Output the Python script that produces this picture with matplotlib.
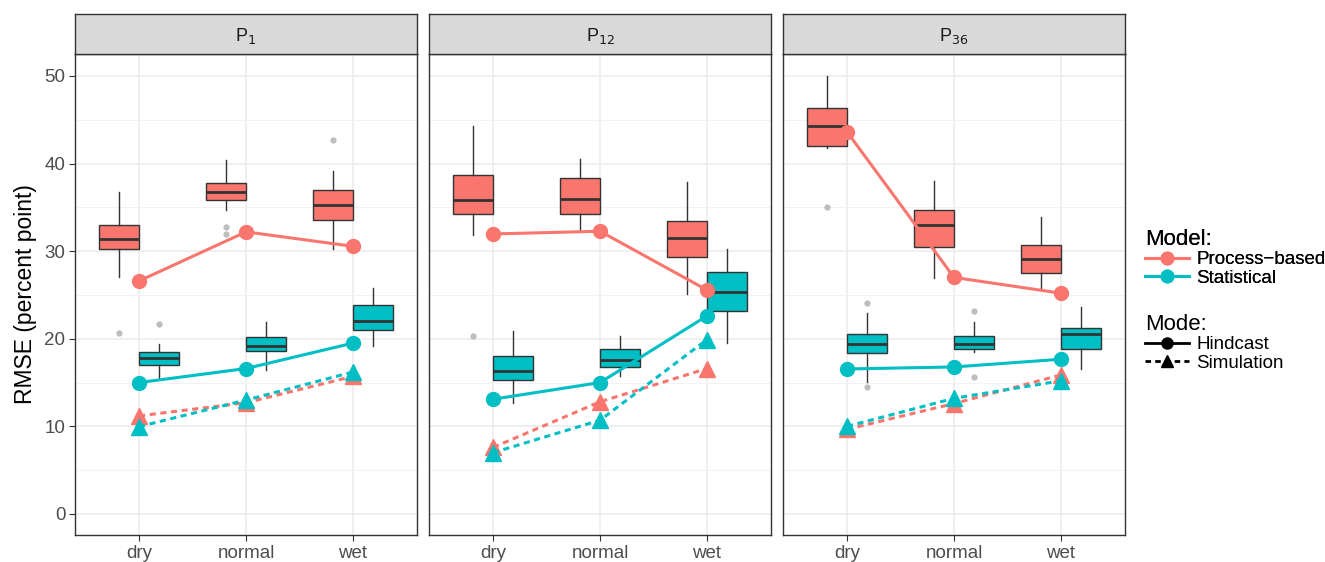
import matplotlib
matplotlib.use("Agg")
import matplotlib.pyplot as plt
from matplotlib.lines import Line2D

plt.rcParams['font.family'] = ['Liberation Sans', 'DejaVu Sans']

panels = ['P$_{1}$', 'P$_{12}$', 'P$_{36}$']
cats = ['dry', 'normal', 'wet']
red = '#F8766D'
teal = '#00BFC4'

# box stats per panel: [whislo, q1, med, q3, whishi] for dry, normal, wet
proc_box = [
    [[27.1, 30.2, 31.35, 32.95, 36.8], [34.7, 35.8, 36.8, 37.75, 40.4], [30.2, 33.6, 35.3, 36.95, 39.1]],
    [[31.85, 34.2, 35.85, 38.7, 44.3], [32.3, 34.2, 35.95, 38.4, 40.5], [25.15, 29.3, 31.45, 33.4, 37.9]],
    [[41.75, 42.05, 44.3, 46.3, 50.0], [26.9, 30.5, 33.0, 34.75, 38.0], [25.65, 27.55, 29.15, 30.67, 33.87]],
]
proc_out = [
    [[20.7], [32.7, 31.9], [42.65]],
    [[20.3], [], []],
    [[35.0], [], []],
]
stat_box = [
    [[15.5, 16.97, 17.85, 18.53, 19.37], [16.4, 18.6, 19.2, 20.24, 21.96], [19.14, 20.97, 22.07, 23.9, 25.8]],
    [[12.67, 15.26, 16.3, 18.07, 20.9], [15.7, 16.78, 17.58, 18.84, 20.36], [19.5, 23.17, 25.3, 27.6, 30.2]],
    [[15.1, 18.34, 19.4, 20.55, 22.9], [18.5, 18.84, 19.4, 20.28, 21.96], [16.6, 18.87, 20.5, 21.2, 23.67]],
]
stat_out = [
    [[21.65], [], []],
    [[], [], []],
    [[24.1, 14.46], [23.2, 15.6], []],
]

# hindcast / simulation RMSE
hind_proc = [[26.6, 32.2, 30.55], [31.96, 32.27, 25.57], [43.6, 27.0, 25.2]]
hind_stat = [[15.0, 16.6, 19.5], [13.1, 15.0, 22.6], [16.55, 16.78, 17.66]]
sim_proc = [[11.2, 12.7, 15.7], [7.6, 12.8, 16.6], [9.67, 12.6, 15.87]]
sim_stat = [[9.97, 13.0, 16.2], [7.0, 10.7, 19.9], [10.0, 13.2, 15.2]]

W, H = 1325, 562
fig = plt.figure(figsize=(W / 100, H / 100), dpi=100)

lefts = [75, 429, 783]
pw = 342
top, bottom = 54, 535
strip_h = 40


def stats(vals, outs):
    lo, q1, med, q3, hi = vals
    return dict(whislo=lo, q1=q1, med=med, q3=q3, whishi=hi, fliers=outs)


xs = [1, 2, 3]
for p in range(3):
    ax = fig.add_axes([lefts[p] / W, 1 - bottom / H, pw / W, (bottom - top) / H])
    ax.set_xlim(0.4, 3.6)
    ax.set_ylim(-2.4, 52.5)
    ax.set_yticks([0, 10, 20, 30, 40, 50])
    ax.set_yticks([5, 15, 25, 35, 45], minor=True)
    ax.set_xticks(xs)
    ax.set_xticklabels(cats)
    ax.grid(True, which='major', color='#EBEBEB', lw=1.1)
    ax.grid(True, which='minor', axis='y', color='#F2F2F2', lw=0.7)
    ax.set_axisbelow(True)
    for s in ax.spines.values():
        s.set_color('#333333')
        s.set_linewidth(1.0)
    ax.tick_params(axis='both', which='major', length=4, color='#333333',
                   labelsize=13.5, labelcolor='#4D4D4D', width=0.8, pad=3)
    ax.tick_params(axis='both', which='minor', length=0)
    if p > 0:
        ax.set_yticklabels([])
        ax.tick_params(axis='y', length=0)

    for boxes, outs, off, col in [(proc_box[p], proc_out[p], -0.1875, red),
                                   (stat_box[p], stat_out[p], 0.1875, teal)]:
        st = [stats(boxes[i], outs[i]) for i in range(3)]
        ax.bxp(st, positions=[x + off for x in xs], widths=0.375, patch_artist=True,
               showcaps=False, manage_ticks=False,
               boxprops=dict(facecolor=col, edgecolor='#333333', lw=1.0),
               medianprops=dict(color='#333333', lw=2.0),
               whiskerprops=dict(color='#333333', lw=1.0),
               flierprops=dict(marker='o', markerfacecolor='#BDBDBD', markeredgecolor='none',
                               markersize=4.5))

    ax.plot(xs, sim_proc[p], color=red, lw=2.2, ls=(0, (2, 1.5)), marker='^', ms=11, zorder=5)
    ax.plot(xs, sim_stat[p], color=teal, lw=2.2, ls=(0, (2, 1.5)), marker='^', ms=11, zorder=5)
    ax.plot(xs, hind_proc[p], color=red, lw=2.2, marker='o', ms=10, zorder=6)
    ax.plot(xs, hind_stat[p], color=teal, lw=2.2, marker='o', ms=10, zorder=6)

    if p == 0:
        ax.set_ylabel('RMSE (percent point)', fontsize=16.5, labelpad=5)

    # strip
    sax = fig.add_axes([lefts[p] / W, 1 - top / H, pw / W, strip_h / H])
    sax.set_xticks([])
    sax.set_yticks([])
    sax.set_facecolor('#D9D9D9')
    for s in sax.spines.values():
        s.set_color('#333333')
        s.set_linewidth(1.0)
    sax.text(0.5, 0.45, panels[p], ha='center', va='center', fontsize=13, color='#1A1A1A',
             transform=sax.transAxes)

model_handles = [
    Line2D([], [], color=red, lw=2.2, marker='o', ms=9),
    Line2D([], [], color=teal, lw=2.2, marker='o', ms=9),
]
mode_handles = [
    Line2D([], [], color='black', lw=2.0, marker='o', ms=8),
    Line2D([], [], color='black', lw=2.0, ls=(0, (2, 1.5)), marker='^', ms=9),
]
leg1 = fig.legend(model_handles, ['Process\u2212based', 'Statistical'], title='Model:',
                  loc='upper left', bbox_to_anchor=(1136 / W, 1 - 220 / H), frameon=False,
                  fontsize=13.5, title_fontsize=16, handlelength=2.3, handletextpad=0.4,
                  labelspacing=0.05, borderpad=0, alignment='left')
leg2 = fig.legend(mode_handles, ['Hindcast', 'Simulation'], title='Mode:',
                  loc='upper left', bbox_to_anchor=(1136 / W, 1 - 305 / H), frameon=False,
                  fontsize=13.5, title_fontsize=16, handlelength=2.3, handletextpad=0.4,
                  labelspacing=0.05, borderpad=0, alignment='left')
fig.add_artist(leg1)

fig.savefig('out.png', dpi=100)
